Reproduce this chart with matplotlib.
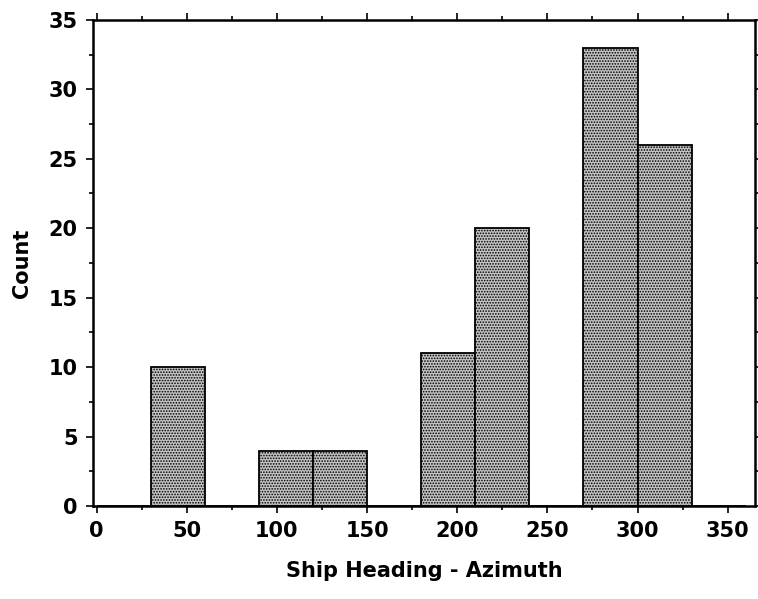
import numpy as np
import matplotlib
matplotlib.use("Agg")
import matplotlib.pyplot as plt
from matplotlib.ticker import MultipleLocator

# Histogram of ship headings, 30 degree bins
bin_edges = [0, 30, 60, 90, 120, 150, 180, 210, 240, 270, 300, 330, 360]
counts = [0, 10, 0, 4, 4, 0, 11, 20, 0, 33, 26, 0]

x_ticks = [0, 50, 100, 150, 200, 250, 300, 350]
y_ticks = [0, 5, 10, 15, 20, 25, 30, 35]

plt.rcParams['font.family'] = ['DejaVu Sans']
plt.rcParams['font.weight'] = 'bold'
plt.rcParams['hatch.color'] = '#444444'
plt.rcParams['hatch.linewidth'] = 0.8

fig = plt.figure(figsize=(7.58, 5.99), dpi=100)
ax = fig.add_axes([0.1227, 0.155, 0.873, 0.812])

lefts = np.array(bin_edges[:-1])
widths = np.diff(bin_edges)
ax.bar(lefts, counts, width=widths, align='edge', facecolor='#c4c4c4',
       edgecolor='black', linewidth=1.3, hatch='......')

ax.set_xlim(-2, 365)
ax.set_ylim(0, 35)
ax.set_xticks(x_ticks)
ax.set_yticks(y_ticks)
ax.xaxis.set_minor_locator(MultipleLocator(25))
ax.yaxis.set_minor_locator(MultipleLocator(2.5))

ax.tick_params(which='both', direction='out', top=True, right=True,
               labeltop=False, labelright=False, width=1.2)
ax.tick_params(which='major', length=5, labelsize=15, pad=6)
ax.tick_params(which='minor', length=3)
for s in ax.spines.values():
    s.set_linewidth(1.8)

ax.set_xlabel('Ship Heading - Azimuth', fontsize=15, fontweight='bold', labelpad=14)
ax.set_ylabel('Count', fontsize=15, fontweight='bold', labelpad=12)

fig.savefig('out.png', dpi=100)
